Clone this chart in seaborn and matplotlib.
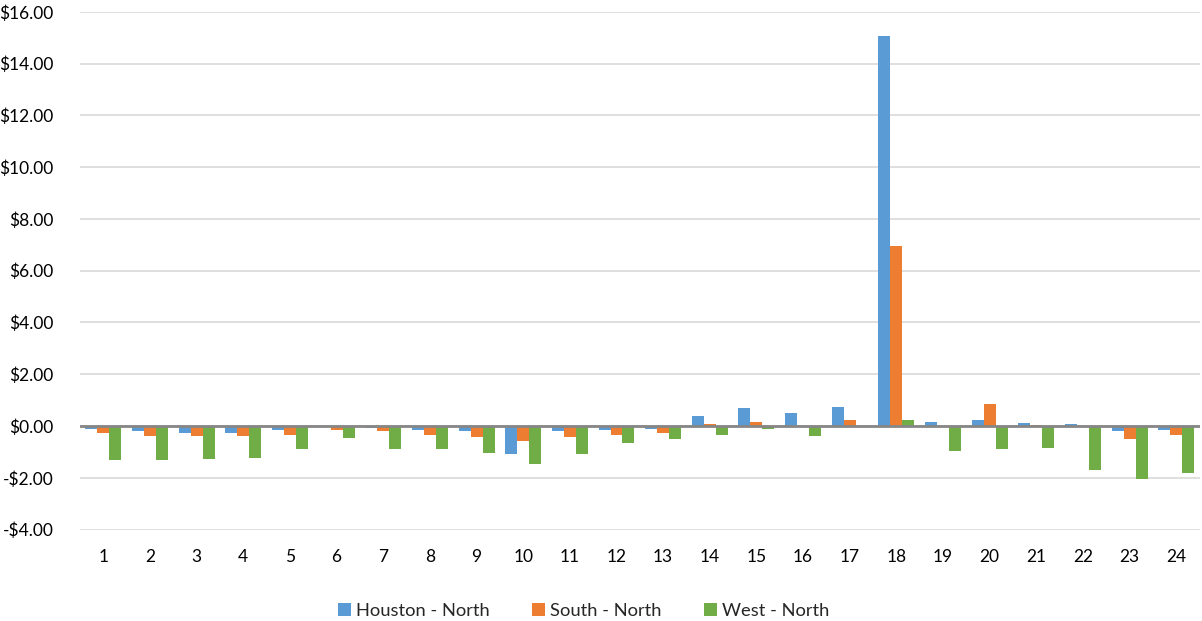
import pandas as pd
import matplotlib.pyplot as plt
import seaborn as sns

# Dados (diferença de preço por hora)
horas = [str(h) for h in range(1, 25)]
houston_north = [-0.12, -0.20, -0.28, -0.27, -0.15, -0.05, -0.08, -0.15, -0.18, -1.10, -0.19, -0.15,
                 -0.10, 0.38, 0.68, 0.49, 0.74, 15.05, 0.17, 0.22, 0.12, 0.06, -0.19, -0.14]
south_north = [-0.26, -0.37, -0.37, -0.37, -0.33, -0.15, -0.20, -0.35, -0.41, -0.58, -0.42, -0.33,
               -0.26, 0.08, 0.15, 0.01, 0.24, 6.97, 0.01, 0.85, 0.02, -0.03, -0.50, -0.33]
west_north = [-1.33, -1.30, -1.28, -1.22, -0.90, -0.47, -0.88, -0.87, -1.05, -1.45, -1.08, -0.65,
              -0.50, -0.36, -0.12, -0.38, -0.01, 0.22, -0.95, -0.88, -0.85, -1.69, -2.06, -1.80]
series = ["Houston - North", "South - North", "West - North"]
cores = ["#5B9BD5", "#ED7D31", "#70AD47"]

df = pd.DataFrame({"Hora": horas * 3,
                   "Valor": houston_north + south_north + west_north,
                   "Serie": [s for s in series for _ in horas]})

sns.set_style("white")
plt.rcParams["font.family"] = ["Lato", "DejaVu Sans"]

fig = plt.figure(figsize=(12.02, 6.21), dpi=100)
ax = fig.add_axes([0.0666, 0.1473, 0.9314, 0.8337])
sns.barplot(data=df, x="Hora", y="Valor", hue="Serie", palette=cores, width=0.77,
            saturation=1, ax=ax, edgecolor="none", legend=True)

ax.set_ylim(-4, 16)
ax.set_xlim(-0.5, 23.5)
ax.set_yticks(range(-4, 17, 2))
ax.set_yticklabels([f"${v:.2f}" if v >= 0 else f"-${-v:.2f}" for v in range(-4, 17, 2)])
ax.grid(axis="y", color="#d9d9d9", linewidth=1.2)
ax.set_axisbelow(True)
ax.axhline(0, color="#868686", linewidth=2, zorder=3)
for s in ax.spines.values():
    s.set_visible(False)
ax.tick_params(axis="both", length=0, labelsize=12.5, colors="black")
ax.tick_params(axis="y", pad=19)
ax.tick_params(axis="x", pad=14)
ax.set_xlabel("")
ax.set_ylabel("")

ax.legend(loc="lower center", bbox_to_anchor=(0.45, -0.205), ncol=3, frameon=False,
          fontsize=13.2, handlelength=0.7, handleheight=0.7, handletextpad=0.3, columnspacing=2.3)

fig.savefig("out.png", dpi=100)
